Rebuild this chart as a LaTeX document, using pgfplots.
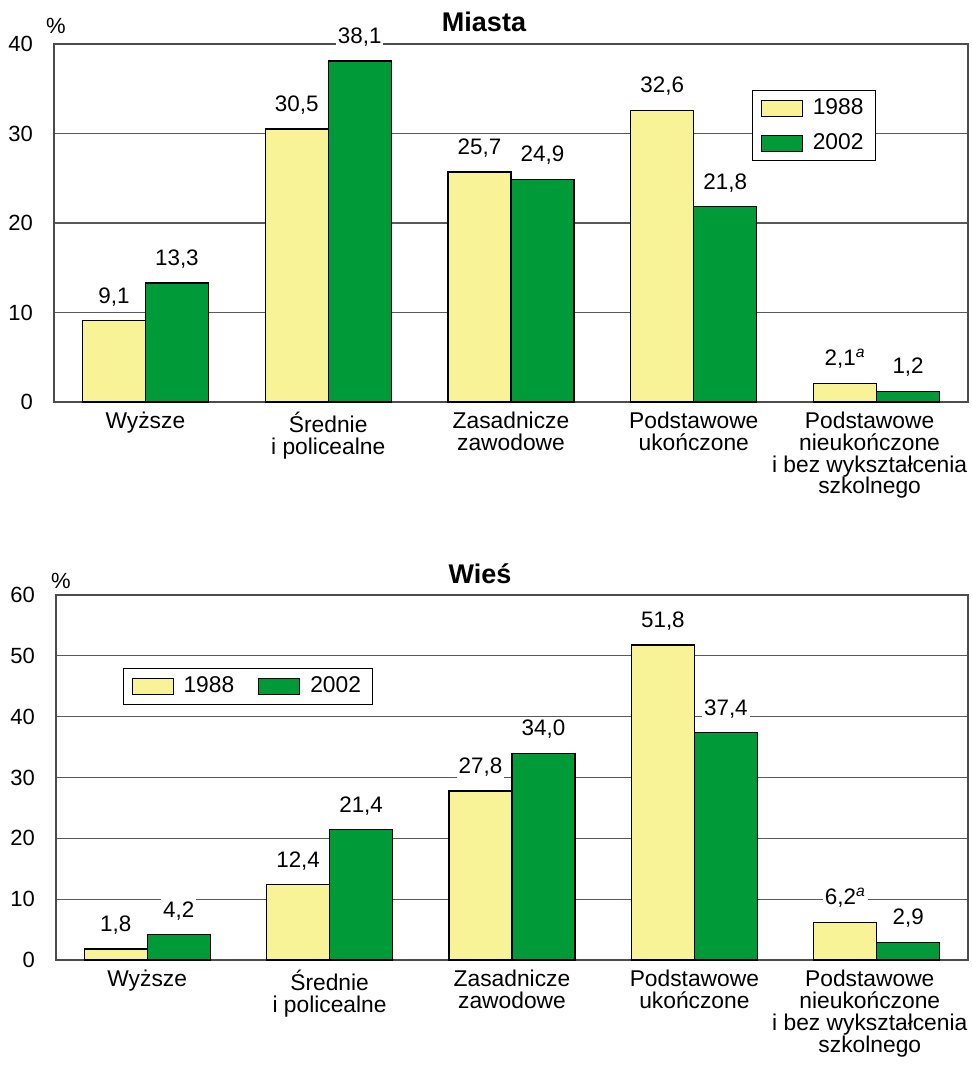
\documentclass[border=0pt]{standalone}
\usepackage{fontspec}
\setmainfont{Liberation Sans}
\usepackage{pgfplots}
\pgfplotsset{compat=1.18}

\definecolor{jasny}{RGB}{248,243,150}
\definecolor{ziel}{RGB}{0,154,56}

\pgfplotsset{
  wyk/.style={
    ybar=0pt,
    bar width=31.5pt,
    xmin=-0.5, xmax=4.5,
    ymin=0,
    xtick={0,1,2,3},
    xticklabels={Wyższe,Średnie\\i policealne,Zasadnicze\\zawodowe,Podstawowe\\ukończone},
    extra x ticks={4},
    extra x tick labels={Podstawowe\\nieukończone\\i bez wykształcenia\\szkolnego},
    extra x tick style={xticklabel style={xshift=-3.5pt}},
    xticklabel style={align=center, font=\fontsize{11.4}{10.9}\selectfont, yshift=-1.5pt},
    yticklabel style={font=\fontsize{11}{12}\selectfont, xshift=-7pt},
    /pgf/number format/assume math mode=true,
    major tick length=0pt,
    ymajorgrids,
    grid style={black!65, line width=0.6pt},
    axis line style={black!70, line width=0.6pt},
    clip=false,
    point meta=explicit symbolic,
    nodes near coords={\pgfplotspointmeta},
    nodes near coords style={font=\fontsize{11.2}{12}\selectfont, fill=white, inner sep=1pt, yshift=6pt},
    legend style={draw=black, line width=0.5pt, font=\fontsize{11.4}{12}\selectfont,
      inner xsep=4pt, inner ysep=2.2pt, row sep=4pt,
      /tikz/every odd column/.append style={column sep=3pt}},
    legend cell align=left,
    legend image code/.code={\draw[##1, draw=black, line width=0.5pt] (0pt,-4pt) rectangle (20.5pt,4pt);},
  },
  b88/.style={fill=jasny, draw=black, line width=0.6pt},
  b02/.style={fill=ziel, draw=black, line width=0.6pt},
}

\begin{document}
\begin{tikzpicture}
% Miasta
\begin{axis}[wyk,
  at={(27pt,-201pt)}, anchor=south west,
  width=457pt, height=179pt, scale only axis,
  ymax=40, ytick={0,10,20,30,40},
  legend style={at={(axis description cs:0.764,0.872)}, anchor=north west},
]
\addplot[b88] coordinates {(0,9.1)[9,1] (1,30.5)[30,5] (2,25.7)[25,7] (3,32.6)[32,6] (4,2.1)[2,1\textsuperscript{\itshape a}]};
\addplot[b02] coordinates {(0,13.3)[13,3] (1,38.1)[38,1] (2,24.9)[24,9] (3,21.8)[21,8] (4,1.2)[1,2]};
\legend{1988,2002}
\end{axis}
\node[font=\fontsize{13.5}{14}\selectfont\bfseries] at (242pt,-11pt) {Miasta};
\node[font=\fontsize{11}{12}\selectfont] at (28pt,-13pt) {\%};

% Wieś
\begin{axis}[wyk,
  at={(28pt,-480pt)}, anchor=south west,
  width=456pt, height=182.5pt, scale only axis,
  ymax=60, ytick={0,10,20,30,40,50,60},
  legend columns=2,
  legend style={at={(axis description cs:0.0735,0.8)}, anchor=north west,
    /tikz/every even column/.append style={column sep=10pt}},
]
\addplot[b88] coordinates {(0,1.8)[1,8] (1,12.4)[12,4] (2,27.8)[27,8] (3,51.8)[51,8] (4,6.2)[6,2\textsuperscript{\itshape a}]};
\addplot[b02] coordinates {(0,4.2)[4,2] (1,21.4)[21,4] (2,34.0)[34,0] (3,37.4)[37,4] (4,2.9)[2,9]};
\legend{1988,2002}
\end{axis}
\node[font=\fontsize{13.5}{14}\selectfont\bfseries] at (240pt,-287pt) {Wieś};
\node[font=\fontsize{11}{12}\selectfont] at (30.5pt,-290.5pt) {\%};

\pgfresetboundingbox
\useasboundingbox (0pt,0pt) rectangle (485.5pt,-535.5pt);
\end{tikzpicture}
\end{document}
